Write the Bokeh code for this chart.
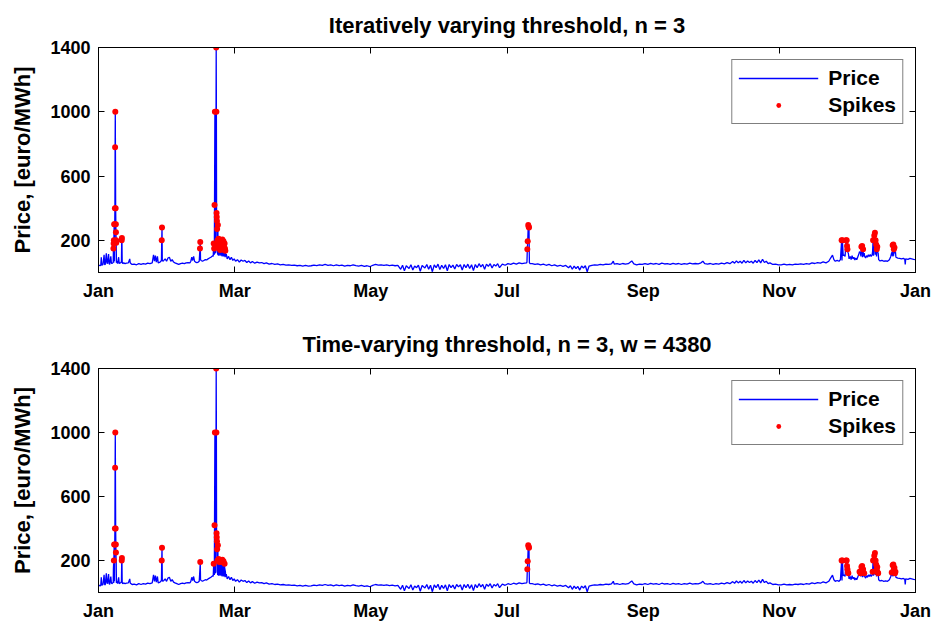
from bokeh.plotting import figure
from bokeh.models import Range1d, FixedTicker, LinearAxis, Legend, LegendItem, ColumnDataSource
from bokeh.layouts import column
from bokeh.embed import file_html
from bokeh.resources import INLINE

# ---------------- data (x in hours of the year, y in euro/MWh) ----------------
tick_hours = [0, 1460, 2920, 4380, 5840, 7300, 8760]
tick_labels = ["Jan", "Mar", "May", "Jul", "Sep", "Nov", "Jan"]
y_ticks = [200, 600, 1000, 1400]

titles = ["Iteratively varying threshold, n = 3",
          "Time-varying threshold, n = 3, w = 4380"]

# base price (non-spike hours)
base_hours = [
    0, 12, 24, 30, 36, 48, 60, 66, 72, 84, 90, 96, 108, 114, 120, 132, 138, 144, 152, 158,
    163, 171, 192, 198, 204, 216, 222, 230, 240, 246, 254, 260, 270, 285, 300, 320, 335, 340, 350,
    360, 384, 408, 432, 456, 480, 504, 528, 552, 576,
    590, 600, 610, 620, 632, 640, 660, 670, 675, 684, 690,
    700, 715, 730, 745, 760, 775, 790, 805, 820, 840, 860, 880, 900, 920, 940, 960, 980,
    990, 1000, 1010, 1020, 1030, 1040, 1055, 1070, 1080, 1094, 1100,
    1115, 1130, 1145, 1160, 1175, 1190, 1205, 1215, 1225, 1230, 1238, 1242, 1250, 1256,
    1274, 1278, 1282, 1286, 1290, 1294, 1298, 1302, 1306, 1310, 1314, 1318, 1322, 1326,
    1330, 1334, 1338, 1342, 1346, 1350, 1354, 1358, 1364,
    1370, 1380, 1395, 1410, 1425, 1440, 1455, 1470, 1490, 1510, 1530, 1550, 1570, 1590,
    1610, 1630, 1650, 1675, 1700, 1725, 1750, 1775, 1800, 1830, 1860, 1890, 1920, 1950,
    1980, 2010, 2040, 2070, 2100,
    2130, 2160, 2190, 2220, 2250, 2280, 2310, 2340, 2370, 2400, 2430, 2460, 2490, 2520,
    2550, 2580, 2610, 2640, 2670, 2700, 2730, 2760, 2790, 2820, 2850, 2880, 2910, 2940,
    2970, 3000, 3030, 3060, 3090, 3120, 3150, 3180,
    3210, 3240, 3260, 3280, 3300, 3330, 3350, 3370, 3390, 3410, 3430, 3450, 3470, 3500,
    3520, 3540, 3560, 3580, 3600, 3620, 3640, 3660, 3680, 3700, 3720, 3740, 3760, 3780,
    3800, 3820, 3840, 3860, 3880, 3900, 3920, 3940, 3960, 3980, 4000, 4020, 4040, 4060,
    4080, 4100, 4120, 4140, 4160, 4180, 4200, 4220, 4240, 4260, 4280, 4300, 4330, 4360,
    4390, 4420, 4450, 4480, 4510, 4540, 4570, 4590, 4594, 4620, 4630,
    4650, 4680, 4710, 4740, 4770, 4800, 4830, 4860, 4890, 4920, 4950, 4980, 5010, 5040,
    5060, 5080, 5100, 5120, 5140, 5160, 5180, 5200, 5220, 5240, 5260, 5290, 5320, 5350,
    5380, 5410, 5440, 5470, 5500, 5520, 5530, 5560, 5590, 5620, 5650, 5680, 5718, 5740,
    5770, 5800, 5830,
    5860, 5890, 5920, 5950, 5980, 6010, 6040, 6070, 6100, 6130, 6160, 6190, 6220, 6250,
    6280, 6310, 6340, 6370, 6400, 6430, 6460, 6480, 6500, 6530, 6560, 6590, 6620, 6650,
    6680, 6710, 6740, 6770, 6800, 6820, 6840, 6860, 6880, 6900, 6920, 6940, 6960, 6980,
    7000, 7020, 7040, 7060, 7080, 7100, 7120, 7140, 7160, 7180, 7200, 7230, 7260, 7290,
    7320, 7350, 7380, 7410, 7440, 7470, 7500, 7530, 7560, 7590, 7620, 7650, 7680, 7710,
    7740, 7770, 7800, 7830, 7850, 7870, 7885, 7900, 7920, 7940, 7955, 7972, 7985, 7995,
    8005, 8048, 8060, 8070, 8080, 8090, 8100, 8110, 8120, 8130, 8140, 8150, 8175, 8192,
    8205, 8215, 8225, 8235, 8245, 8255, 8265, 8275, 8285, 8295, 8310, 8328, 8342, 8365,
    8380, 8400, 8420, 8440, 8460, 8480, 8495, 8510, 8518, 8525, 8550, 8570, 8590, 8610,
    8630, 8645, 8650, 8655, 8680, 8700, 8720, 8740, 8760,
]
base_prices = [
    40, 45, 42, 95, 45, 50, 110, 50, 48, 120, 60, 55, 115, 55, 50, 100, 60, 55, 60, 65,
    60, 70, 60, 70, 55, 95, 55, 60, 60, 70, 65, 55, 60, 55, 58, 60, 85, 60, 55,
    50, 52, 48, 55, 50, 55, 52, 58, 55, 60,
    110, 70, 105, 65, 100, 60, 65, 70, 80, 75, 70,
    75, 85, 70, 90, 95, 70, 80, 65, 60, 55, 50, 55, 58, 55, 60, 62, 60,
    70, 95, 75, 100, 70, 65, 62, 65, 70, 80, 75,
    70, 75, 80, 78, 85, 90, 95, 100, 105, 100, 115, 110, 120, 130,
    120, 110, 125, 105, 120, 110, 125, 105, 120, 110, 125, 105, 120, 100,
    130, 105, 120, 100, 115, 100, 110, 95, 100,
    115, 85, 100, 80, 95, 75, 85, 70, 80, 65, 78, 70, 75, 62,
    72, 60, 68, 58, 65, 60, 62, 55, 60, 52, 56, 50, 53, 48,
    50, 46, 48, 44, 46,
    42, 45, 40, 44, 40, 42, 46, 43, 48, 44, 50, 45, 48, 42,
    47, 43, 46, 40, 45, 42, 48, 43, 40, 44, 38, 42, 36, 45,
    50, 46, 48, 44, 47, 43, 46, 42,
    45, 20, 45, 10, 42, 25, 48, 15, 40, 30, 46, 8, 44, 28,
    50, 20, 45, 5, 47, 30, 52, 18, 45, 25, 48, 10, 50, 30,
    46, 22, 50, 35, 48, 15, 50, 30, 52, 25, 48, 12, 50, 30,
    55, 35, 50, 20, 52, 38, 55, 28, 50, 40, 55, 30, 52, 45,
    55, 50, 58, 52, 60, 55, 58, 60, 65, 60, 55,
    55, 50, 54, 48, 52, 45, 50, 42, 47, 40, 45, 38, 44, 30,
    42, 20, 40, 25, 38, 15, 40, 28, 42, 5, 40, 45, 48, 46,
    50, 48, 52, 50, 54, 70, 52, 55, 50, 56, 52, 55, 72, 54,
    48, 52, 50,
    55, 50, 57, 52, 56, 50, 58, 53, 55, 50, 57, 52, 56, 50,
    55, 52, 58, 53, 56, 54, 60, 70, 55, 52, 56, 50, 55, 52,
    58, 54, 62, 55, 68, 58, 72, 60, 70, 58, 75, 60, 72, 62,
    70, 58, 75, 62, 78, 60, 82, 62, 70, 55, 60, 50, 52, 48,
    48, 52, 47, 50, 48, 52, 50, 54, 50, 55, 52, 60, 56, 62,
    58, 66, 60, 70, 90, 108, 80, 70, 75, 70, 80, 75, 105, 110,
    100, 85, 100, 80, 105, 85, 95, 78, 90, 80, 95, 110, 100, 95,
    100, 100, 90, 105, 95, 110, 100, 112, 100, 110, 105, 110, 100, 80,
    72, 75, 70, 73, 70, 80, 100, 105, 100, 105, 95, 90, 88, 85,
    88, 82, 50, 85, 82, 88, 85, 82, 80,
]

# spikes flagged by the iteratively varying threshold (top panel)
iter_spike_hours = [
    160, 162, 165, 168, 174, 176, 178, 180, 184, 186, 187, 189, 190,
    249, 251, 678, 681, 1088, 1091,
    1235, 1240, 1244, 1248, 1262, 1264, 1266, 1268, 1270, 1272, 1276, 1280, 1284, 1288,
    1292, 1296, 1300, 1304, 1308, 1312, 1316, 1320, 1324, 1328, 1332, 1336, 1340, 1344,
    1348, 1352, 1356, 1360,
    4598, 4602, 4608, 4612, 4616,
    7968, 7976, 8015, 8022, 8026, 8030, 8180, 8188, 8198, 8305, 8318, 8325, 8332, 8338,
    8345, 8350, 8515, 8522, 8528, 8534,
]
iter_spike_prices = [
    150, 180, 200, 300, 300, 400, 780, 1000, 400, 300, 250, 200, 185,
    200, 215, 200, 280, 150, 190,
    180, 150, 420, 1000, 1400, 1000, 370, 345, 320, 270, 200, 295, 170, 210,
    150, 190, 200, 140, 175, 200, 160, 190, 145, 205, 170, 150, 195, 165,
    140, 180, 150, 135,
    145, 195, 295, 285, 280,
    200, 200, 200, 200, 165, 145, 160, 165, 145, 200, 230, 247, 200, 175,
    145, 160, 170, 175, 145, 155,
]

# spikes flagged by the time-varying threshold (bottom panel)
tv_spike_hours = [
    165, 168, 174, 176, 178, 180, 184, 186, 187,
    249, 251, 678, 681, 1091,
    1235, 1244, 1248, 1262, 1264, 1266, 1268, 1270, 1272, 1276, 1280, 1288, 1296, 1300,
    1312, 1320, 1328, 1340, 1352,
    4598, 4602, 4608, 4612, 4616,
    7968, 7976, 8015, 8022, 8026, 8030, 8036, 8040, 8160, 8170, 8180, 8188, 8198, 8200,
    8210, 8300, 8305, 8318, 8325, 8332, 8338, 8345, 8350, 8355, 8360, 8505, 8515, 8522,
    8528, 8534, 8540, 8545,
]
tv_spike_prices = [
    200, 300, 300, 400, 780, 1000, 400, 300, 250,
    200, 215, 200, 280, 190,
    180, 420, 1000, 1400, 1000, 370, 345, 320, 270, 200, 295, 210, 190, 200,
    200, 190, 205, 195, 180,
    145, 195, 295, 285, 280,
    200, 200, 200, 200, 165, 145, 125, 120, 130, 120, 160, 165, 145, 125,
    120, 130, 200, 230, 247, 200, 175, 145, 160, 125, 120, 125, 170, 175,
    145, 155, 120, 130,
]

# price line = base hours merged with all spike hours
_pts = dict(zip(base_hours, base_prices))
_pts.update(dict(zip(iter_spike_hours, iter_spike_prices)))
_pts.update(dict(zip(tv_spike_hours, tv_spike_prices)))
line_hours = sorted(_pts)
line_prices = [_pts[h] for h in line_hours]

FONT = "Liberation Sans"


def mirror_axis(ticks):
    return LinearAxis(ticker=FixedTicker(ticks=ticks), major_label_text_font_size="1px",
                      major_label_text_color=None, major_tick_in=6, major_tick_out=0,
                      minor_tick_line_color=None, axis_line_color="black",
                      major_tick_line_color="black", major_label_standoff=0)


def make_panel(title, sp_h, sp_p, height, top, bottom, title_standoff):
    p = figure(width=933, height=height, output_backend="svg", toolbar_location=None,
               x_range=Range1d(0, 8760), y_range=Range1d(0, 1400),
               min_border_left=98, min_border_right=18,
               min_border_top=top, min_border_bottom=bottom, title=title)
    p.title.text_font = FONT
    p.title.text_font_size = "22px"
    p.title.text_font_style = "bold"
    p.title.align = "center"
    p.title.text_color = "black"
    p.title.standoff = title_standoff
    p.xgrid.visible = False
    p.ygrid.visible = False
    p.outline_line_color = "black"
    p.outline_line_alpha = 1
    p.outline_line_width = 1

    src = ColumnDataSource(dict(h=line_hours, price=line_prices))
    r_line = p.line("h", "price", source=src, color="#0000ff", line_width=1.3)
    r_dot = p.scatter(sp_h, sp_p, size=6, fill_color="#ff0000", line_color="#ff0000",
                      line_width=0)

    xa = p.xaxis[0]
    xa.ticker = FixedTicker(ticks=tick_hours)
    xa.major_label_overrides = {h: lab for h, lab in zip(tick_hours, tick_labels)}
    ya = p.yaxis[0]
    ya.ticker = FixedTicker(ticks=y_ticks)
    ya.axis_label = "Price, [euro/MWh]"
    ya.axis_label_text_font = FONT
    ya.axis_label_text_font_size = "22px"
    ya.axis_label_text_font_style = "bold"
    ya.axis_label_text_color = "black"
    ya.axis_label_standoff = 12
    for ax in (xa, ya):
        ax.major_label_text_font = FONT
        ax.major_label_text_font_size = "18px"
        ax.major_label_text_font_style = "bold"
        ax.major_label_text_color = "black"
        ax.major_tick_in = 6
        ax.major_tick_out = 0
        ax.minor_tick_line_color = None
        ax.axis_line_color = "black"
        ax.major_tick_line_color = "black"
    xa.major_label_standoff = 8
    ya.major_label_standoff = 8

    p.add_layout(mirror_axis(tick_hours), "above")
    p.add_layout(mirror_axis(y_ticks), "right")

    legend = Legend(items=[LegendItem(label="Price", renderers=[r_line]),
                           LegendItem(label="Spikes", renderers=[r_dot])],
                    location="top_right", margin=12, padding=6, spacing=3,
                    glyph_width=80, glyph_height=12, label_height=22, label_standoff=10,
                    label_text_font=FONT, label_text_font_size="21px",
                    label_text_font_style="bold", label_text_color="black",
                    border_line_color="black", border_line_width=1,
                    background_fill_color="white", background_fill_alpha=1)
    p.add_layout(legend)
    return p


p1 = make_panel(titles[0], iter_spike_hours, iter_spike_prices, 311, 47, 39, 20)
p2 = make_panel(titles[1], tv_spike_hours, tv_spike_prices, 312, 57, 30, 23)
layout = column(p1, p2, spacing=0)

open("out.html", "w").write(file_html(layout, INLINE))
